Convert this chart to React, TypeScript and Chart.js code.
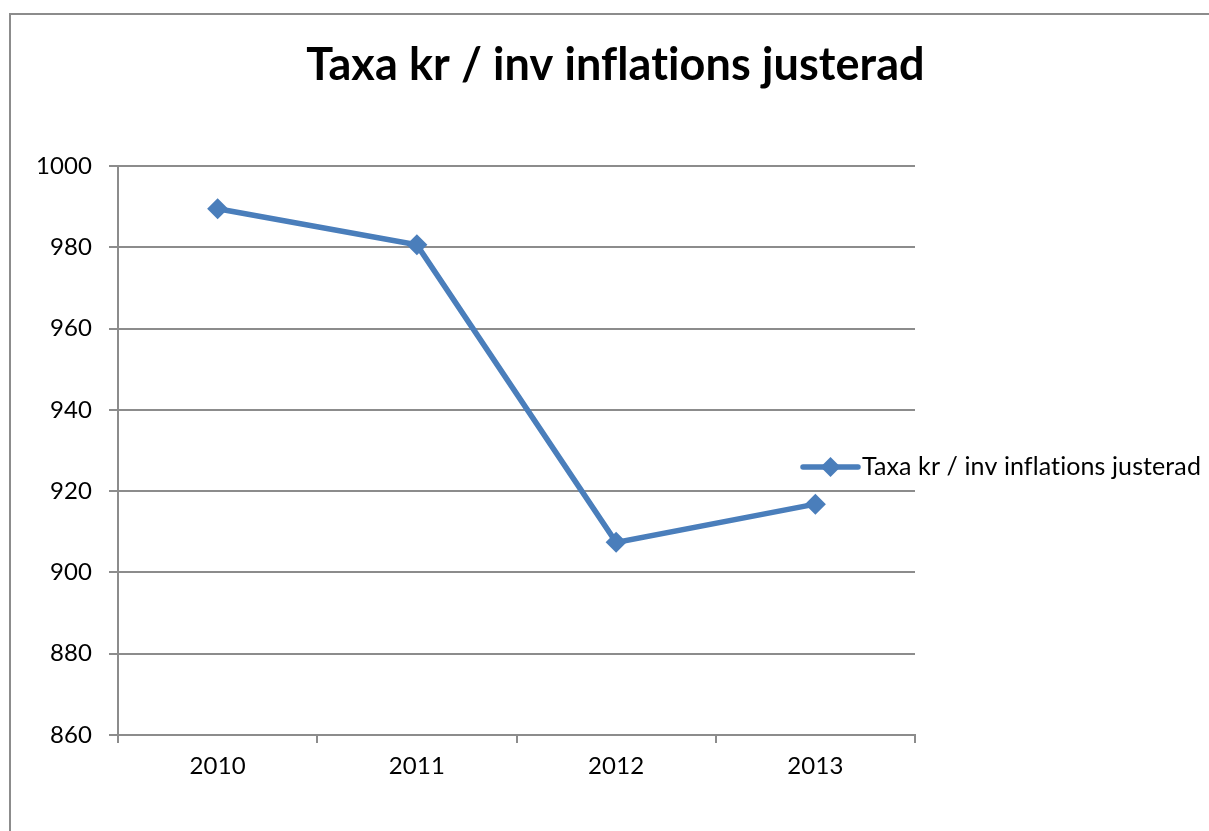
import React, { useEffect, useRef } from "react";
import { Chart, registerables } from "chart.js";

Chart.register(...registerables);

const titleText = "Taxa kr / inv inflations justerad";
const seriesLabel = "Taxa kr / inv inflations justerad";
const categories = ["2010", "2011", "2012", "2013"];
const values = [989.5, 980.6, 907.4, 916.8];
const yMin = 860;
const yMax = 1000;
const yStep = 20;

const FONT = "Lato, 'Open Sans', sans-serif";
const BLUE = "#4a7ebb";
const GRID = "#8c8c8c";

const noLigaturesPlugin = {
  id: "noLigatures",
  beforeDraw(chart: any) {
    (chart.ctx as any).letterSpacing = "0.1px";
  },
};

const legendPlugin = {
  id: "customLegend",
  afterDraw(chart: any) {
    const ctx = chart.ctx;
    const y = 452;
    const x0 = 792;
    const x1 = 847;
    ctx.save();
    ctx.strokeStyle = BLUE;
    ctx.lineWidth = 5.5;
    ctx.lineCap = "round";
    ctx.beginPath();
    ctx.moveTo(x0, y);
    ctx.lineTo(x1, y);
    ctx.stroke();
    const cx = (x0 + x1) / 2;
    const r = 10;
    ctx.fillStyle = BLUE;
    ctx.beginPath();
    ctx.moveTo(cx, y - r);
    ctx.lineTo(cx + r, y);
    ctx.lineTo(cx, y + r);
    ctx.lineTo(cx - r, y);
    ctx.closePath();
    ctx.fill();
    ctx.fillStyle = "#000";
    ctx.font = `25px ${FONT}`;
    (ctx as any).letterSpacing = "0.1px";
    ctx.textBaseline = "middle";
    ctx.textAlign = "left";
    ctx.fillText(seriesLabel, 851, y);
    ctx.restore();
  },
};

export default function App() {
  const ref = useRef<HTMLCanvasElement>(null);
  useEffect(() => {
    if (!ref.current) return;
    const chart = new Chart(ref.current, {
      type: "line",
      data: {
        labels: categories,
        datasets: [
          {
            label: seriesLabel,
            data: values,
            borderColor: BLUE,
            backgroundColor: BLUE,
            borderWidth: 5.5,
            pointStyle: "rectRot",
            pointRadius: 10.5,
            pointBorderWidth: 0,
            pointBackgroundColor: BLUE,
            tension: 0,
          },
        ],
      },
      options: {
        responsive: false,
        animation: false,
        layout: { padding: 0 },
        plugins: {
          legend: { display: false },
          tooltip: { enabled: false },
          title: {
            display: true,
            text: titleText,
            color: "#000",
            font: { family: FONT, size: 45, weight: "bold", lineHeight: 1.2 },
            padding: { top: 23, bottom: 74 },
          },
        },
        scales: {
          x: {
            type: "category",
            offset: true,
            grid: {
              offset: true,
              drawOnChartArea: false,
              drawTicks: true,
              tickLength: 8,
              color: GRID,
              lineWidth: 2,
            },
            border: { display: true, color: GRID, width: 2 },
            ticks: { color: "#000", font: { family: FONT, size: 24 }, padding: 9, maxRotation: 0 },
            afterFit: (s: any) => {
              s.height = 111;
            },
          },
          y: {
            min: yMin,
            max: yMax,
            ticks: {
              stepSize: yStep,
              color: "#000",
              font: { family: FONT, size: 24 },
              padding: 17,
              callback: (v: any) => String(v),
            },
            grid: { color: GRID, lineWidth: 2, tickLength: 9, drawTicks: true },
            border: { display: true, color: GRID, width: 2 },
            afterFit: (s: any) => {
              s.width = 107;
            },
          },
          spacer: {
            type: "linear",
            position: "right",
            display: true,
            grid: { drawOnChartArea: false, drawTicks: false, display: false },
            border: { display: false },
            ticks: { display: false },
            afterFit: (s: any) => {
              s.width = 305;
            },
          },
        },
      } as any,
      plugins: [noLigaturesPlugin, legendPlugin],
    });
    return () => chart.destroy();
  }, []);

  return (
    <div style={{ position: "fixed", inset: 0, overflow: "hidden", background: "#fff" }}>
      <div
        style={{
          position: "absolute",
          left: 9,
          top: 13,
          width: 1400,
          height: 1000,
          borderLeft: `2px solid ${GRID}`,
          borderTop: `2px solid ${GRID}`,
        }}
      >
        <canvas ref={ref} width={1209} height={831} style={{ width: 1209, height: 831, display: "block" }} />
      </div>
    </div>
  );
}
